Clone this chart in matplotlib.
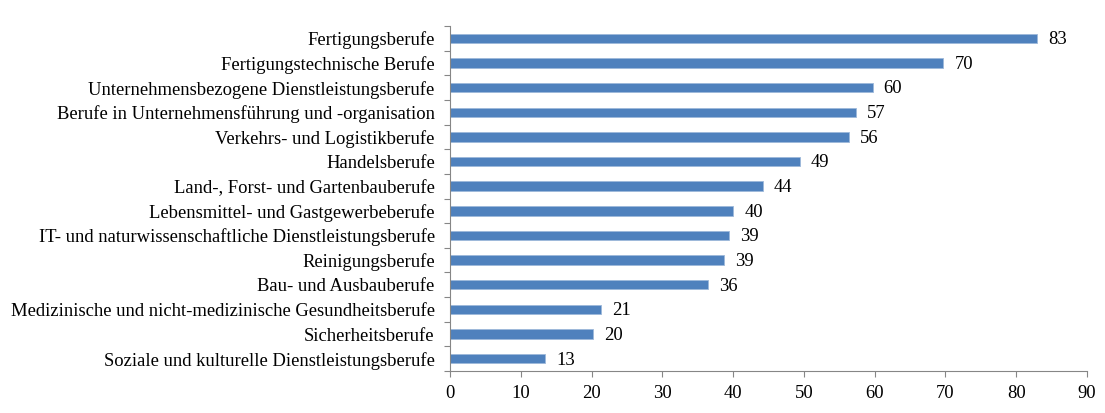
import matplotlib
matplotlib.use("Agg")
import matplotlib.pyplot as plt
import numpy

categories = [
    "Fertigungsberufe",
    "Fertigungstechnische Berufe",
    "Unternehmensbezogene Dienstleistungsberufe",
    "Berufe in Unternehmensführung und -organisation",
    "Verkehrs- und Logistikberufe",
    "Handelsberufe",
    "Land-, Forst- und Gartenbauberufe",
    "Lebensmittel- und Gastgewerbeberufe",
    "IT- und naturwissenschaftliche Dienstleistungsberufe",
    "Reinigungsberufe",
    "Bau- und Ausbauberufe",
    "Medizinische und nicht-medizinische Gesundheitsberufe",
    "Sicherheitsberufe",
    "Soziale und kulturelle Dienstleistungsberufe",
]
values = [82.9, 69.7, 59.7, 57.3, 56.4, 49.4, 44.2, 40.0, 39.4, 38.7, 36.5, 21.4, 20.2, 13.4]
x_ticks = [0, 10, 20, 30, 40, 50, 60, 70, 80, 90]

plt.rcParams["font.family"] = ["Liberation Serif", "DejaVu Serif"]

fig = plt.figure(figsize=(11.05, 4.13), dpi=100)
axes = fig.add_axes([450 / 1105, 1 - 371 / 413, 637 / 1105, 345 / 413])

positions = numpy.arange(len(categories))
axes.barh(positions, values, height=0.38, color="#4F81BD", edgecolor="#9DB8DA", linewidth=0.6)
for position, value in zip(positions, values):
    axes.annotate("%.0f" % value, (value, position), xytext=(8, -1), textcoords="offset points",
                  va="center", ha="left", fontsize=13.4)

axes.set_ylim(len(categories) - 0.5, -0.5)
axes.set_xlim(0, 90)
axes.set_xticks(x_ticks)
axes.set_yticks(positions)
axes.set_yticklabels(categories, fontsize=13.4)
axes.set_yticks(numpy.arange(len(categories) + 1) - 0.5, minor=True)
axes.tick_params(axis="y", which="major", length=0, pad=11)
axes.tick_params(axis="y", which="minor", length=4, color="#868686", width=0.8)
axes.tick_params(axis="x", length=4, color="#868686", width=0.8, labelsize=13.4, pad=6)

for side in ["top", "right"]:
    axes.spines[side].set_visible(False)
for side in ["left", "bottom"]:
    axes.spines[side].set_color("#868686")
    axes.spines[side].set_linewidth(0.8)

fig.savefig("out.png", dpi=100)
